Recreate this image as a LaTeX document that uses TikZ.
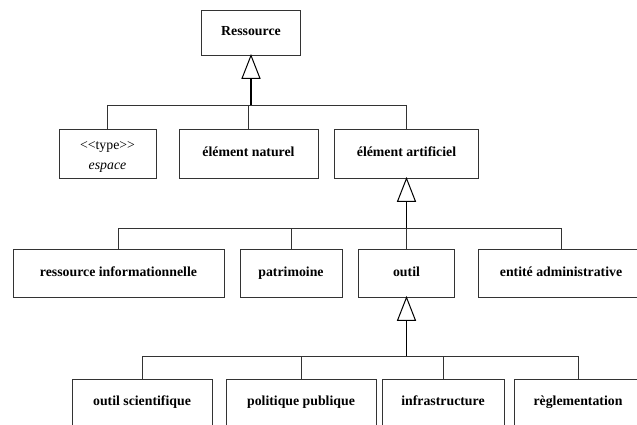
\documentclass[tikz,border=0pt]{standalone}
\usepackage{fontspec}
\setmainfont{Liberation Serif}
\usetikzlibrary{calc}
\begin{document}
\begin{tikzpicture}[x=1pt,y=-1pt,
  box/.style={draw=black!80, line width=0.9pt, inner sep=0pt, align=center,
    font=\fontsize{13.8}{16}\selectfont\bfseries},
  onel/.style={text height=10pt, text depth=3pt},
  tri/.style={draw=black, line width=1pt, fill=white, line join=miter},
  stem/.style={draw=black, line width=1.4pt},
  bus/.style={draw=black!80, line width=0.9pt}]
\useasboundingbox (0,0) rectangle (637,425);
\clip (0,0) rectangle (637,425);
% level 0
\node[box, onel, minimum width=99pt, minimum height=45pt] (R) at (251,32.5) {Ressource};
% level 1
\node[box, minimum width=97pt, minimum height=49pt, font=\fontsize{13.8}{16}\selectfont] (esp) at (107.5,153.5) {\raisebox{-6pt}[0pt][0pt]{\begin{tabular}{@{}c@{}}<{}<type>{}>\\[4pt]\textit{espace}\end{tabular}}};
\node[box, onel, minimum width=139pt, minimum height=49pt] (nat) at (248.5,153.5) {élément naturel};
\node[box, onel, minimum width=144pt, minimum height=49pt] (art) at (406.5,153.5) {élément artificiel};
% level 2
\node[box, onel, minimum width=211pt, minimum height=48pt] (inf) at (118.5,273) {ressource informationnelle};
\node[box, onel, minimum width=102pt, minimum height=48pt] (pat) at (291,273) {patrimoine};
\node[box, onel, minimum width=96pt, minimum height=48pt] (out) at (406.5,273) {outil};
\node[box, onel, minimum width=166pt, minimum height=48pt] (ent) at (561,273) {entité administrative};
% level 3
\node[box, onel, minimum width=140pt, minimum height=49pt] (sci) at (142,403.5) {\raisebox{2pt}{outil scientifique}};
\node[box, onel, minimum width=150pt, minimum height=49pt] (pol) at (301,403.5) {\raisebox{2pt}{politique publique}};
\node[box, onel, minimum width=122pt, minimum height=49pt] (ifr) at (443,403.5) {\raisebox{2pt}{infrastructure}};
\node[box, onel, minimum width=128pt, minimum height=49pt] (reg) at (578,403.5) {\raisebox{2pt}{règlementation}};
% bus levels
\coordinate (y1) at (0,105);
\coordinate (y2) at (0,228);
\coordinate (y3) at (0,356);
% generalisation 1
\coordinate (t1) at ($(R.south)+(0,23)$);
\draw[bus] (esp.north |- y1) -- (art.north |- y1);
\draw[bus] (esp.north |- y1) -- (esp.north);
\draw[bus] (nat.north |- y1) -- (nat.north);
\draw[bus] (art.north |- y1) -- (art.north);
\draw[stem] (t1) -- (R.south |- y1);
\draw[tri] (R.south) -- ($(t1)+(-9,0)$) -- ($(t1)+(9,0)$) -- cycle;
% generalisation 2
\coordinate (t2) at ($(art.south)+(0,23)$);
\draw[bus] (inf.north |- y2) -- (ent.north |- y2);
\draw[bus] (inf.north |- y2) -- (inf.north);
\draw[bus] (pat.north |- y2) -- (pat.north);
\draw[bus] (out.north |- y2) -- (out.north);
\draw[bus] (ent.north |- y2) -- (ent.north);
\draw[stem] (t2) -- (art.south |- y2);
\draw[tri] (art.south) -- ($(t2)+(-9,0)$) -- ($(t2)+(9,0)$) -- cycle;
% generalisation 3
\coordinate (t3) at ($(out.south)+(0,23)$);
\draw[bus] (sci.north |- y3) -- (reg.north |- y3);
\draw[bus] (sci.north |- y3) -- (sci.north);
\draw[bus] (pol.north |- y3) -- (pol.north);
\draw[bus] (ifr.north |- y3) -- (ifr.north);
\draw[bus] (reg.north |- y3) -- (reg.north);
\draw[stem] (t3) -- (out.south |- y3);
\draw[tri] (out.south) -- ($(t3)+(-9,0)$) -- ($(t3)+(9,0)$) -- cycle;
\end{tikzpicture}
\end{document}
